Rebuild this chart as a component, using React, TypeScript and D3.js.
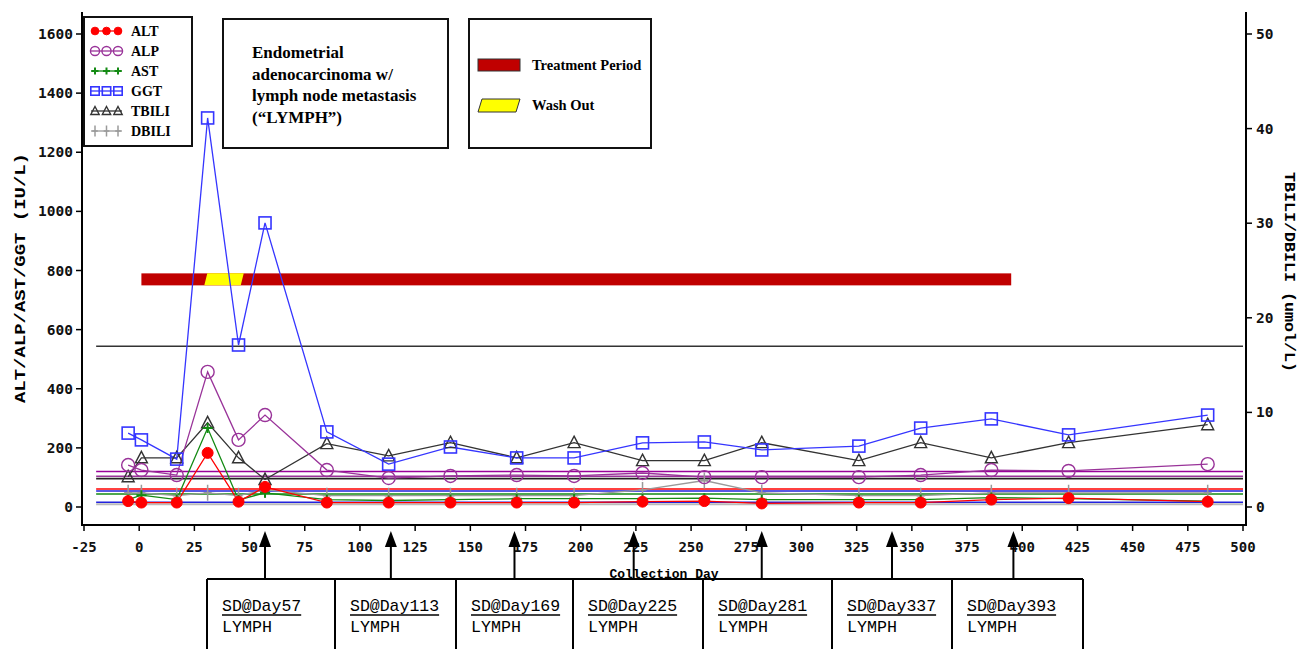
import React from 'react';
import * as d3 from 'd3';

// visit days and lab values
const days = [-5, 1, 17, 31, 45, 57, 85, 113, 141, 171, 197, 228, 256, 282, 326, 354, 386, 421, 484];
const alt = [20, 15, 15, 183, 18, 68, 15, 15, 15, 15, 15, 18, 20, 12, 15, 15, 25, 30, 18];
const alp = [142, 125, 108, 457, 227, 311, 125, 98, 105, 108, 105, 115, 101, 101, 101, 108, 125, 122, 145];
const ast = [25, 40, 25, 267, 24, 48, 25, 22, 25, 28, 28, 28, 30, 25, 25, 25, 32, 28, 20];
const ggt = [250, 227, 162, 1316, 548, 961, 254, 145, 203, 166, 166, 217, 220, 193, 206, 267, 298, 244, 311];
const tbili = [3.2, 5.2, 5.2, 8.9, 5.2, 2.9, 6.7, 5.4, 6.8, 5.2, 6.8, 4.9, 4.9, 6.8, 4.9, 6.8, 5.2, 6.8, 8.7];
const dbili = [1.5, 1.5, 1.2, 1.5, 1.2, 1.8, 1.2, 1.2, 1.2, 1.2, 1.2, 1.8, 2.8, 1.5, 1.2, 1.2, 1.5, 1.5, 1.5];

// reference (normal limit) lines
const refNames = ['TBILI ULN', 'ALP ULN', 'ALP ULN2', 'DBILI ULN', 'ALT ULN', 'GGT ULN', 'AST ULN', 'GGT LLN', 'DBILI LLN'];
const refValues = [17, 120, 104, 3.0, 61, 54, 44, 16, 0.3];
const refAxis = ['R', 'L', 'L', 'R', 'L', 'L', 'L', 'L', 'R'];

const treatment = [1, 395];
const washout = [29.5, 46];
const barLevel = 770;

const sdDays = [57, 113, 169, 225, 281, 337, 393];
const arrowDays = [57, 114, 170, 224, 282, 341, 396];

const xTicks = d3.range(-25, 501, 25);
const yLeftTicks = d3.range(0, 1601, 200);
const yRightTicks = d3.range(0, 51, 10);

const colors: Record<string, string> = {
  ALT: '#ff0000',
  ALP: '#993399',
  AST: '#138a13',
  GGT: '#3535ff',
  TBILI: '#333333',
  DBILI: '#9a9a9a',
};
const refColors: Record<string, string> = {
  'TBILI ULN': '#333333',
  'ALP ULN': '#990099',
  'ALP ULN2': '#993399',
  'DBILI ULN': '#222222',
  'ALT ULN': '#ff0000',
  'GGT ULN': '#2222dd',
  'AST ULN': '#138a13',
  'GGT LLN': '#2222dd',
  'DBILI LLN': '#bbbbbb',
};

const W = 1307;
const H = 649;
const frame = { left: 82, right: 1246, top: 12, bottom: 525 };
const boxEdges = [207, 335, 456, 573, 703, 832, 952, 1083];
const boxTop = 579;

const x = d3.scaleLinear().domain([-25, 500]).range([84, 1243]);
const yL = d3.scaleLinear().domain([0, 1600]).range([507, 34]);
const yR = d3.scaleLinear().domain([0, 50]).range([507, 34]);

const tickFont = '"DejaVu Sans Mono", monospace';
const monoFont = '"Liberation Mono", "Courier New", monospace';
const serif = '"Liberation Serif", "Times New Roman", serif';

type Marker = 'dot' | 'circle' | 'plus' | 'square' | 'triangle' | 'cross';

const MarkerShape: React.FC<{ kind: Marker; cx: number; cy: number; color: string; s?: number }> = ({ kind, cx, cy, color, s = 1 }) => {
  if (kind === 'dot') return <circle cx={cx} cy={cy} r={5.5 * s} fill={color} stroke={color} />;
  if (kind === 'circle') return <circle cx={cx} cy={cy} r={6.5 * s} fill="none" stroke={color} strokeWidth={1.4} />;
  if (kind === 'square') return <rect x={cx - 6 * s} y={cy - 6 * s} width={12 * s} height={12 * s} fill="none" stroke={color} strokeWidth={1.6} />;
  if (kind === 'triangle')
    return <path d={`M${cx},${cy - 6.5 * s}L${cx + 6 * s},${cy + 5 * s}H${cx - 6 * s}Z`} fill="none" stroke={color} strokeWidth={1.4} />;
  if (kind === 'plus')
    return <path d={`M${cx - 5 * s},${cy}H${cx + 5 * s}M${cx},${cy - 5 * s}V${cy + 5 * s}`} stroke={color} strokeWidth={2} />;
  return <path d={`M${cx - 4 * s},${cy}H${cx + 4 * s}M${cx},${cy - 8 * s}V${cy + 8 * s}`} stroke={color} strokeWidth={1.5} />;
};

const series = [
  { name: 'DBILI', values: dbili, axis: 'R', marker: 'cross' as Marker },
  { name: 'TBILI', values: tbili, axis: 'R', marker: 'triangle' as Marker },
  { name: 'GGT', values: ggt, axis: 'L', marker: 'square' as Marker },
  { name: 'ALP', values: alp, axis: 'L', marker: 'circle' as Marker },
  { name: 'AST', values: ast, axis: 'L', marker: 'plus' as Marker },
  { name: 'ALT', values: alt, axis: 'L', marker: 'dot' as Marker },
];
const legendOrder = ['ALT', 'ALP', 'AST', 'GGT', 'TBILI', 'DBILI'];

export default function App() {
  const line = d3.line<[number, number]>().x(d => d[0]).y(d => d[1]);
  const pts = (vals: number[], axis: string): [number, number][] =>
    vals.map((v, i) => [x(days[i]), axis === 'R' ? yR(v) : yL(v)]);

  const barY = yL(barLevel);
  const slant = 3;

  return (
    <svg width={W} height={H} style={{ position: 'absolute', left: 0, top: 0, background: '#fff' }}>
      {/* reference lines */}
      {refNames.map((n, i) => {
        const yy = refAxis[i] === 'R' ? yR(refValues[i]) : yL(refValues[i]);
        return <line key={n} x1={x(-19.5)} x2={x(500)} y1={yy} y2={yy} stroke={refColors[n]} strokeWidth={n === 'DBILI LLN' ? 2 : 1.6} />;
      })}

      {/* treatment bar */}
      <rect x={x(treatment[0])} y={barY - 6} width={x(treatment[1]) - x(treatment[0])} height={12} fill="#c00000" />
      <path
        d={`M${x(washout[0])},${barY + 6}L${x(washout[0]) + slant},${barY - 6}L${x(washout[1]) + slant},${barY - 6}L${x(washout[1])},${barY + 6}Z`}
        fill="#ffff00"
      />

      {/* series lines */}
      {series.map(s => (
        <path key={s.name} d={line(pts(s.values, s.axis)) || ''} fill="none" stroke={colors[s.name]} strokeWidth={1.3} />
      ))}
      {/* markers */}
      {series.map(s =>
        pts(s.values, s.axis).map((p, i) => (
          <MarkerShape key={s.name + i} kind={s.marker} cx={p[0]} cy={p[1]} color={colors[s.name]} />
        ))
      )}

      {/* frame */}
      <path
        d={`M${frame.left},${frame.top}V${frame.bottom}H${frame.right}V${frame.top}`}
        fill="none"
        stroke="#000"
        strokeWidth={2}
      />

      {/* left axis */}
      {yLeftTicks.map(t => (
        <g key={'yl' + t}>
          <line x1={frame.left - 6} x2={frame.left} y1={yL(t)} y2={yL(t)} stroke="#000" strokeWidth={1.5} />
          <text x={frame.left - 9} y={yL(t)} dy="0.35em" textAnchor="end" fontFamily={tickFont} fontWeight="bold" fontSize={14.5} fill="#111">
            {t}
          </text>
        </g>
      ))}
      {/* right axis */}
      {yRightTicks.map(t => (
        <g key={'yr' + t}>
          <line x1={frame.right} x2={frame.right + 6} y1={yR(t)} y2={yR(t)} stroke="#000" strokeWidth={1.5} />
          <text x={frame.right + 10} y={yR(t)} dy="0.35em" textAnchor="start" fontFamily={tickFont} fontWeight="bold" fontSize={14.5} fill="#111">
            {t}
          </text>
        </g>
      ))}
      {/* bottom axis */}
      {xTicks.map(t => (
        <g key={'x' + t}>
          <line x1={x(t)} x2={x(t)} y1={frame.bottom} y2={frame.bottom + 6} stroke="#000" strokeWidth={1.5} />
          <text x={x(t)} y={frame.bottom + 22} dy="0.35em" textAnchor="middle" fontFamily={tickFont} fontWeight="bold" fontSize={14} fill="#111">
            {t}
          </text>
        </g>
      ))}

      {/* axis titles */}
      <text
        transform={`translate(20,278) rotate(-90)`}
        textAnchor="middle"
        dy="0.35em"
        fontFamily={monoFont}
        fontWeight="bold"
        fontSize={14}
        textLength={250}
        lengthAdjust="spacingAndGlyphs"
      >
        ALT/ALP/AST/GGT  (IU/L)
      </text>
      <text
        transform={`translate(1290,272) rotate(90)`}
        textAnchor="middle"
        dy="0.35em"
        fontFamily={monoFont}
        fontWeight="bold"
        fontSize={14}
        textLength={200}
        lengthAdjust="spacingAndGlyphs"
      >
        TBILI/DBILI  (umol/L)
      </text>
      <text x={(frame.left + frame.right) / 2} y={573} dy="0.35em" textAnchor="middle" fontFamily={monoFont} fontWeight="bold" fontSize={13}>
        Collection Day
      </text>

      {/* series legend */}
      <rect x={84} y={17} width={108} height={129} fill="#fff" stroke="#111" strokeWidth={2} />
      {legendOrder.map((n, i) => {
        const s = series.find(d => d.name === n)!;
        const ly = 31 + i * 20;
        return (
          <g key={'lg' + n}>
            <line x1={91} x2={122} y1={ly} y2={ly} stroke={colors[n]} strokeWidth={1.3} />
            {[95, 106.5, 118].map(mx => (
              <MarkerShape key={mx} kind={s.marker} cx={mx} cy={ly} color={colors[n]} s={0.7} />
            ))}
            <text x={131} y={ly} dy="0.35em" fontFamily={serif} fontWeight="bold" fontSize={14}>
              {n}
            </text>
          </g>
        );
      })}

      {/* disease note */}
      <rect x={223} y={19} width={225} height={129} fill="#fff" stroke="#111" strokeWidth={2} />
      {['Endometrial', 'adenocarcinoma w/', 'lymph node metastasis', '(\u201CLYMPH\u201D)'].map((t, i) => (
        <text key={t} x={252} y={58 + i * 21.5} fontFamily={serif} fontWeight="bold" fontSize={17}>
          {t}
        </text>
      ))}

      {/* period legend */}
      <rect x={469} y={19} width={182} height={129} fill="#fff" stroke="#111" strokeWidth={2} />
      <rect x={478} y={59} width={42} height={12} fill="#c00000" stroke="#333" strokeWidth={1} />
      <text x={532} y={65} dy="0.35em" fontFamily={serif} fontWeight="bold" fontSize={14.5}>
        Treatment Period
      </text>
      <path d="M478,112L482,99H520L516,112Z" fill="#ffff00" stroke="#333" strokeWidth={1} />
      <text x={532} y={105} dy="0.35em" fontFamily={serif} fontWeight="bold" fontSize={14.5}>
        Wash Out
      </text>

      {/* response arrows */}
      {arrowDays.map((d, i) => (
        <g key={'ar' + i}>
          <line x1={x(d)} x2={x(d)} y1={boxTop} y2={545} stroke="#000" strokeWidth={2} />
          <path d={`M${x(d)},${531}L${x(d) + 6},${547}H${x(d) - 6}Z`} fill="#000" />
        </g>
      ))}

      {/* response boxes */}
      <line x1={boxEdges[0]} x2={boxEdges[boxEdges.length - 1]} y1={boxTop} y2={boxTop} stroke="#000" strokeWidth={2} />
      {boxEdges.map(e => (
        <line key={'be' + e} x1={e} x2={e} y1={boxTop} y2={H + 5} stroke="#000" strokeWidth={2} />
      ))}
      {sdDays.map((d, i) => {
        const label = `SD@Day${d}`;
        const len = label.length * 9.9;
        const tx = boxEdges[i] + 15;
        return (
          <g key={'sd' + d}>
            <text x={tx} y={611} fontFamily={monoFont} fontSize={17} textLength={len} lengthAdjust="spacingAndGlyphs">
              {label}
            </text>
            <line x1={tx} x2={tx + len} y1={615} y2={615} stroke="#000" strokeWidth={1.5} />
            <text x={tx} y={632} fontFamily={monoFont} fontSize={16} textLength={50} lengthAdjust="spacingAndGlyphs">
              LYMPH
            </text>
          </g>
        );
      })}
    </svg>
  );
}
